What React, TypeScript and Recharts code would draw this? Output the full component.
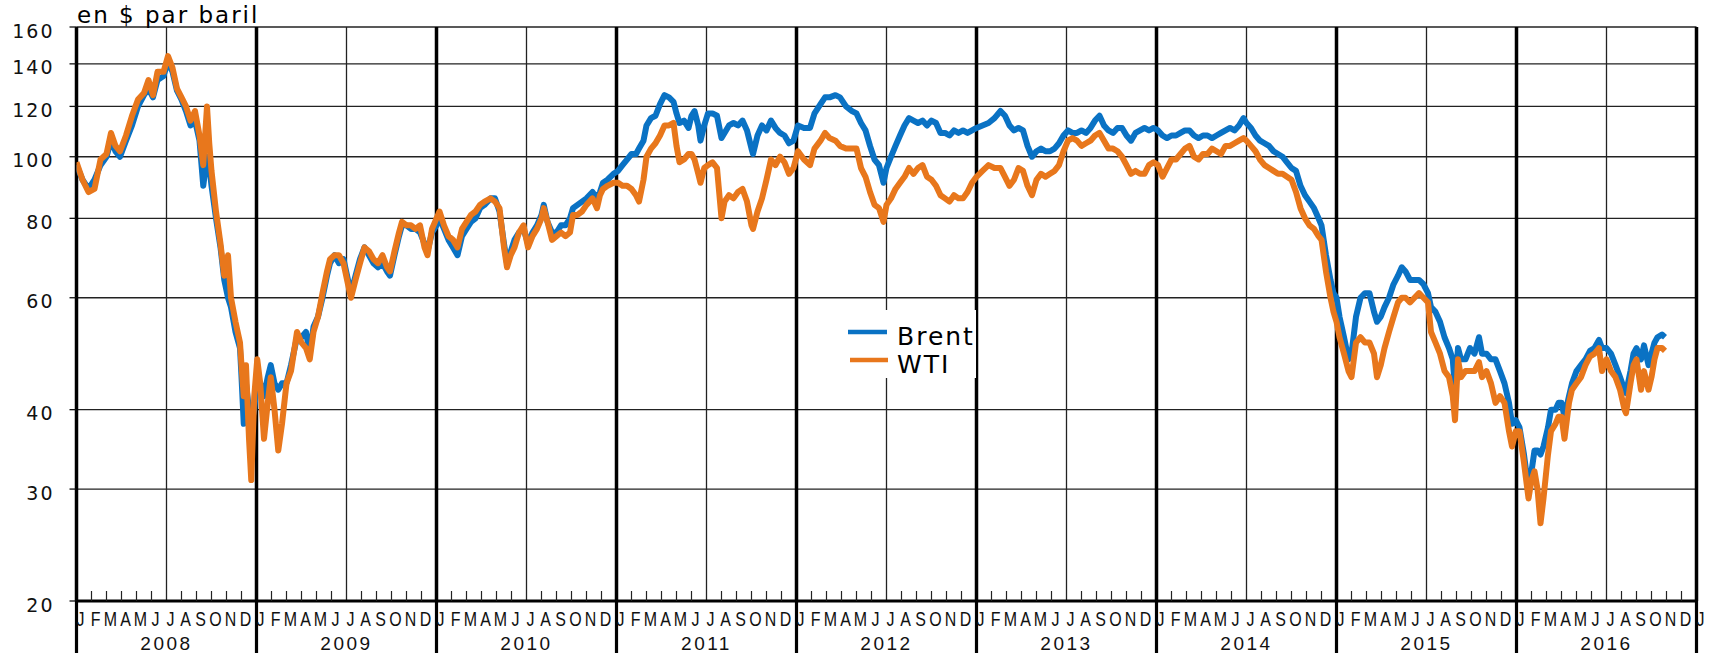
import React from "react";
import { LineChart, Line, XAxis, YAxis, CartesianGrid, ReferenceLine, Legend } from "recharts";

// month index from January 2008 (0 = 1 Jan 2008)
const monthIdx = [
  0.0, 0.4, 0.8, 1.2, 1.6, 2.0, 2.3, 2.6, 2.9, 3.3, 3.7, 4.1, 4.5, 4.8, 5.1, 5.4, 5.8, 6.1, 6.4, 6.7,
  7.0, 7.3, 7.6, 7.9, 8.2, 8.45, 8.7, 8.85, 9.0, 9.3, 9.6, 9.85, 10.1, 10.3, 10.6, 10.9, 11.0, 11.15, 11.3, 11.5,
  11.65, 11.85, 12.05, 12.25, 12.5, 12.75, 12.95, 13.2, 13.45, 13.7, 14.0, 14.3, 14.7, 15.0, 15.3, 15.55, 15.8, 16.1, 16.4, 16.7,
  16.9, 17.2, 17.5, 17.8, 18.1, 18.3, 18.6, 18.9, 19.2, 19.5, 19.8, 20.1, 20.4, 20.7, 20.9, 21.2, 21.5, 21.7, 22.0, 22.3,
  22.6, 22.9, 23.2, 23.4, 23.7, 24.0, 24.2, 24.5, 24.8, 25.1, 25.4, 25.7, 26.0, 26.3, 26.6, 26.9, 27.2, 27.6, 27.9, 28.2,
  28.5, 28.7, 28.95, 29.2, 29.5, 29.8, 30.1, 30.4, 30.7, 31.0, 31.15, 31.4, 31.7, 32.0, 32.3, 32.6, 32.9, 33.1, 33.4, 33.7,
  34.0, 34.4, 34.7, 34.9, 35.1, 35.4, 35.8, 36.1, 36.4, 36.7, 37.0, 37.3, 37.5, 37.8, 38.0, 38.3, 38.6, 38.9, 39.2, 39.5,
  39.8, 40.0, 40.2, 40.5, 40.8, 41.0, 41.2, 41.45, 41.6, 41.85, 42.1, 42.4, 42.7, 43.0, 43.2, 43.5, 43.8, 44.1, 44.4, 44.7,
  45.0, 45.1, 45.4, 45.7, 46.0, 46.3, 46.6, 46.9, 47.2, 47.5, 47.8, 48.1, 48.5, 48.9, 49.2, 49.6, 49.9, 50.2, 50.6, 50.9,
  51.3, 51.7, 52.0, 52.3, 52.6, 52.9, 53.2, 53.5, 53.8, 54.0, 54.3, 54.6, 54.9, 55.2, 55.5, 55.8, 56.1, 56.4, 56.7, 57.0,
  57.3, 57.6, 57.9, 58.2, 58.5, 58.8, 59.1, 59.4, 59.7, 60.0, 60.4, 60.8, 61.2, 61.6, 61.9, 62.2, 62.5, 62.8, 63.1, 63.4,
  63.7, 64.0, 64.3, 64.6, 64.9, 65.2, 65.5, 65.8, 66.1, 66.4, 66.7, 67.0, 67.3, 67.6, 67.9, 68.2, 68.5, 68.8, 69.1, 69.4,
  69.7, 70.0, 70.3, 70.6, 70.9, 71.2, 71.5, 71.8, 72.1, 72.4, 72.7, 73.0, 73.3, 73.6, 73.9, 74.2, 74.5, 74.8, 75.1, 75.4,
  75.7, 76.0, 76.3, 76.6, 76.9, 77.2, 77.5, 77.8, 78.0, 78.3, 78.6, 78.9, 79.2, 79.5, 79.8, 80.1, 80.4, 80.7, 81.0, 81.3,
  81.6, 81.9, 82.2, 82.5, 82.8, 83.0, 83.3, 83.6, 83.8, 84.0, 84.2, 84.5, 84.8, 85.0, 85.3, 85.6, 85.9, 86.2, 86.5, 86.7,
  86.95, 87.2, 87.5, 87.8, 88.1, 88.35, 88.6, 88.9, 89.2, 89.5, 89.8, 90.1, 90.3, 90.6, 90.9, 91.2, 91.5, 91.75, 91.9, 92.1,
  92.3, 92.6, 92.9, 93.2, 93.5, 93.7, 94.0, 94.3, 94.6, 94.9, 95.2, 95.5, 95.7, 95.95, 96.2, 96.5, 96.8, 97.0, 97.2, 97.4,
  97.6, 97.8, 98.1, 98.3, 98.6, 98.8, 99.0, 99.2, 99.5, 99.7, 100.0, 100.3, 100.6, 100.9, 101.2, 101.5, 101.7, 102.0, 102.3, 102.6,
  102.9, 103.2, 103.3, 103.6, 103.8, 104.0, 104.3, 104.5, 104.8, 105.0, 105.2, 105.4, 105.7, 105.9,
];

const brent = [
  97, 92, 89, 92, 97, 100, 106, 102, 100, 106, 112, 120, 125, 128, 124, 132, 134, 141, 136, 127,
  123, 118, 112, 114, 106, 90, 100, 97, 90, 80, 72, 64, 60, 58, 53, 50, 45, 38, 44, 40,
  38, 40, 45, 44, 42, 45, 47, 44, 43, 44, 44, 47, 52, 52, 53, 49, 54, 56, 60, 65,
  68, 70, 68, 69, 64, 61, 65, 69, 72, 70, 68, 67, 68, 66, 65, 70, 75, 78, 78, 77,
  77, 76, 73, 71, 76, 78, 80, 77, 74, 72, 70, 75, 77, 79, 80, 83, 84, 86, 86, 82,
  73, 68, 71, 74, 76, 77, 73, 76, 78, 81, 84, 79, 76, 76, 78, 78, 80, 83, 84, 85,
  86, 88, 86, 88, 91, 92, 94, 95, 97, 99, 101, 101, 103, 106, 112, 115, 116, 121, 125, 124,
  122, 117, 113, 114, 111, 116, 118, 112, 106, 112, 117, 117, 116, 107, 109, 112, 113, 112, 114, 110,
  103, 101, 108, 112, 110, 114, 111, 109, 108, 105, 106, 112, 111, 111, 117, 121, 124, 124, 125, 124,
  120, 118, 117, 113, 110, 104, 99, 97, 91, 96, 100, 104, 108, 112, 115, 114, 113, 114, 112, 114,
  113, 109, 109, 108, 110, 109, 110, 109, 110, 111, 112, 113, 115, 118, 116, 112, 110, 111, 110, 104,
  100, 102, 103, 102, 102, 103, 105, 108, 110, 109, 109, 110, 109, 111, 114, 116, 112, 110, 109, 111,
  111, 108, 106, 109, 110, 111, 110, 111, 110, 108, 107, 108, 108, 109, 110, 110, 108, 107, 108, 108,
  107, 108, 109, 110, 111, 110, 112, 115, 113, 111, 108, 106, 105, 104, 102, 101, 100, 98, 96, 95,
  90, 87, 85, 83, 80, 78, 70, 64, 61, 60, 56, 52, 48, 49, 56, 60, 61, 61, 57, 55,
  56, 58, 60, 63, 65, 67, 66, 64, 64, 64, 63, 61, 58, 57, 55, 52, 50, 48, 43, 50,
  48, 48, 50, 49, 52, 49, 49, 48, 48, 46, 44, 41, 38, 38.5, 37.5, 34, 30, 32, 34.5, 34.5,
  34, 35, 37.5, 40, 40, 41, 41, 39, 42, 44, 46, 47, 48, 49.5, 50, 51.5, 50, 50, 49, 47,
  45, 43, 42.5, 46, 49, 50, 48, 50.5, 47, 49, 51, 52, 52.5, 52,
];

const wti = [
  98, 92, 88, 89, 99, 101, 109, 104, 102, 108, 116, 123, 126, 132, 125, 136, 136, 144, 138, 128,
  124, 120, 114, 118, 108, 97, 120, 105, 95, 82, 73, 65, 70, 60, 55, 51, 47, 42, 47, 36,
  31, 42, 48, 44, 36, 41, 45, 40, 34.5, 38, 44, 46, 53, 51, 50, 48, 53, 56, 61, 66,
  69, 70, 70, 68, 63, 60, 64, 68, 72, 71, 69, 68, 70, 67, 66, 71, 76, 79, 78, 78,
  77, 78, 72, 70, 77, 80, 82, 78, 75, 74, 72, 77, 79, 81, 82, 84, 85, 86, 85, 83,
  72, 67, 70, 72, 76, 78, 72, 75, 77, 80, 83, 79, 74, 75, 76, 75, 76, 81, 81, 82,
  84, 86, 83, 87, 89, 90, 91, 91, 90, 90, 89, 87, 85, 92, 100, 103, 105, 108, 112, 112,
  113, 104, 98, 99, 101, 101, 99, 94, 91, 96, 97, 98, 96, 80, 85, 87, 86, 88, 89, 85,
  78, 77, 82, 86, 92, 99, 97, 100, 98, 94, 96, 102, 99, 97, 103, 106, 109, 107, 106, 104,
  103, 103, 103, 96, 93, 88, 84, 83, 79, 84, 86, 89, 91, 93, 96, 94, 96, 97, 93, 92,
  90, 87, 86, 85, 87, 86, 86, 88, 91, 93, 95, 97, 96, 96, 93, 90, 92, 96, 95, 90,
  87, 92, 94, 93, 94, 95, 97, 102, 106, 107, 106, 104, 105, 106, 108, 109, 106, 103, 103, 102,
  100, 97, 94, 95, 94, 94, 97, 98, 97, 93, 96, 99, 99, 101, 103, 104, 100, 99, 101, 101,
  103, 102, 101, 104, 104, 105, 106, 107, 106, 104, 102, 99, 97, 96, 95, 94, 94, 93, 92, 88,
  83, 80, 78, 77, 75, 74, 66, 60, 57, 55, 52, 49, 46, 45, 51, 52, 51, 51, 49, 45,
  47, 50, 53, 56, 59, 60, 60, 59, 60, 61, 60, 59, 53, 51, 49, 46, 45, 42, 38.5, 48,
  45, 46, 46, 46, 47.5, 45, 46, 44, 41, 42, 41, 37, 35, 37, 37, 33, 29, 31, 32, 30,
  26.5, 29, 34, 37, 38, 39, 39, 36, 41, 43, 44, 45, 47, 48.5, 49, 50, 46, 48, 46, 45,
  43, 40, 39.5, 44, 47, 48, 43, 46, 43, 45, 48, 50, 50, 49.5,
];

const yTicks = [20, 30, 40, 60, 80, 100, 120, 140, 160];
const monthLetters = ["J", "F", "M", "A", "M", "J", "J", "A", "S", "O", "N", "D"];
const years = ["2008", "2009", "2010", "2011", "2012", "2013", "2014", "2015", "2016"];
const seriesNames = ["Brent", "WTI"];
const seriesColors = ["#0A72C4", "#E8771C"];

const monthTicks = Array.from({ length: years.length * 12 + 1 }, (_, i) => i);
const yearStarts = monthTicks.filter((m) => m % 12 === 0);
const midYears = monthTicks.filter((m) => m % 12 === 6);

const data = monthIdx.map((m, i) => ({ m, brent: brent[i], wti: wti[i] }));

const YTick = (props: any) => {
  const { x, y, payload } = props;
  return (
    <text
      x={x}
      y={y + 5}
      textAnchor="end"
      dominantBaseline="middle"
      fontFamily="DejaVu Sans"
      fontSize={19}
      letterSpacing={2}
      fill="#111"
    >
      {payload.value}
    </text>
  );
};

const MonthTick = (props: any) => {
  const { x, y, payload } = props;
  const m = payload.value as number;
  const letter = monthLetters[m % 12];
  const isYear = m % 12 === 0;
  const isMid = m % 12 === 6;
  const yearIdx = Math.floor(m / 12);
  return (
    <g>
      {!isYear && !isMid && <line x1={x} x2={x} y1={y} y2={y - 10} stroke="#222" strokeWidth={1.2} />}
      {isYear && <line x1={x} x2={x} y1={y} y2={y + 52} stroke="#000" strokeWidth={3.2} />}
      <text
        transform={`translate(${x + 4},${y + 25}) scale(0.76,1)`}
        textAnchor="middle"
        fontFamily="Liberation Sans"
        fontSize={21}
        fill="#111"
      >
        {letter}
      </text>
      {isMid && yearIdx < years.length && (
        <text
          x={x}
          y={y + 48.5}
          textAnchor="middle"
          fontFamily="Liberation Sans"
          fontSize={19}
          letterSpacing={2.5}
          fill="#111"
        >
          {years[yearIdx]}
        </text>
      )}
    </g>
  );
};

const LegendBox = () => (
  <div style={{ width: 134, height: 68, background: "#fff" }}>
    <svg width={134} height={68}>
      <line x1={6} x2={45} y1={22} y2={22} stroke={seriesColors[0]} strokeWidth={4.5} />
      <line x1={8} x2={46} y1={50} y2={50} stroke={seriesColors[1]} strokeWidth={4.5} />
      <text x={55} y={35} fontFamily="DejaVu Sans" fontSize={25} letterSpacing={2} fill="#000">
        {seriesNames[0]}
      </text>
      <text x={55} y={63} fontFamily="DejaVu Sans" fontSize={25} letterSpacing={2} fill="#000">
        {seriesNames[1]}
      </text>
    </svg>
  </div>
);

export default function App() {
  return (
    <div style={{ position: "absolute", left: 0, top: 0, width: 1713, height: 654, background: "#fff" }}>
      <LineChart
        width={1713}
        height={654}
        data={data}
        margin={{ top: 27, right: 16.5, bottom: 0, left: 0 }}
      >
        <CartesianGrid vertical={false} stroke="#222" strokeWidth={1.3} />
        <XAxis
          dataKey="m"
          type="number"
          domain={[0, 108]}
          ticks={monthTicks}
          interval={0}
          height={53}
          tickSize={0}
          tickMargin={0}
          tickLine={false}
          axisLine={{ stroke: "#000", strokeWidth: 3 }}
          tick={<MonthTick />}
          allowDataOverflow
        />
        <YAxis
          scale="log"
          domain={[20, 160]}
          ticks={yTicks}
          interval={0}
          width={76.5}
          tickSize={7}
          tickMargin={15}
          axisLine={false}
          tickLine={{ stroke: "#111", strokeWidth: 1.3 }}
          tick={<YTick />}
          allowDataOverflow
        />
        {midYears.map((m) => (
          <ReferenceLine key={`mid${m}`} x={m} stroke="#222" strokeWidth={1.3} />
        ))}
        {yearStarts.map((m) => (
          <ReferenceLine key={`yr${m}`} x={m} stroke="#000" strokeWidth={3.5} />
        ))}
        <Legend
          verticalAlign="middle"
          align="center"
          layout="horizontal"
          content={<LegendBox />}
          wrapperStyle={{ left: 842, top: 310, width: 134, height: 68 }}
        />
        <Line
          type="linear"
          dataKey="brent"
          name={seriesNames[0]}
          stroke={seriesColors[0]}
          strokeWidth={6}
          dot={false}
          isAnimationActive={false}
          strokeLinejoin="round"
        />
        <Line
          type="linear"
          dataKey="wti"
          name={seriesNames[1]}
          stroke={seriesColors[1]}
          strokeWidth={6}
          dot={false}
          isAnimationActive={false}
          strokeLinejoin="round"
        />
      </LineChart>
      <div
        style={{
          position: "absolute",
          left: 77,
          top: 1,
          fontFamily: "DejaVu Sans",
          fontSize: 23,
          letterSpacing: 2,
          lineHeight: "28px",
          color: "#000",
        }}
      >
        en $ par baril
      </div>
    </div>
  );
}
